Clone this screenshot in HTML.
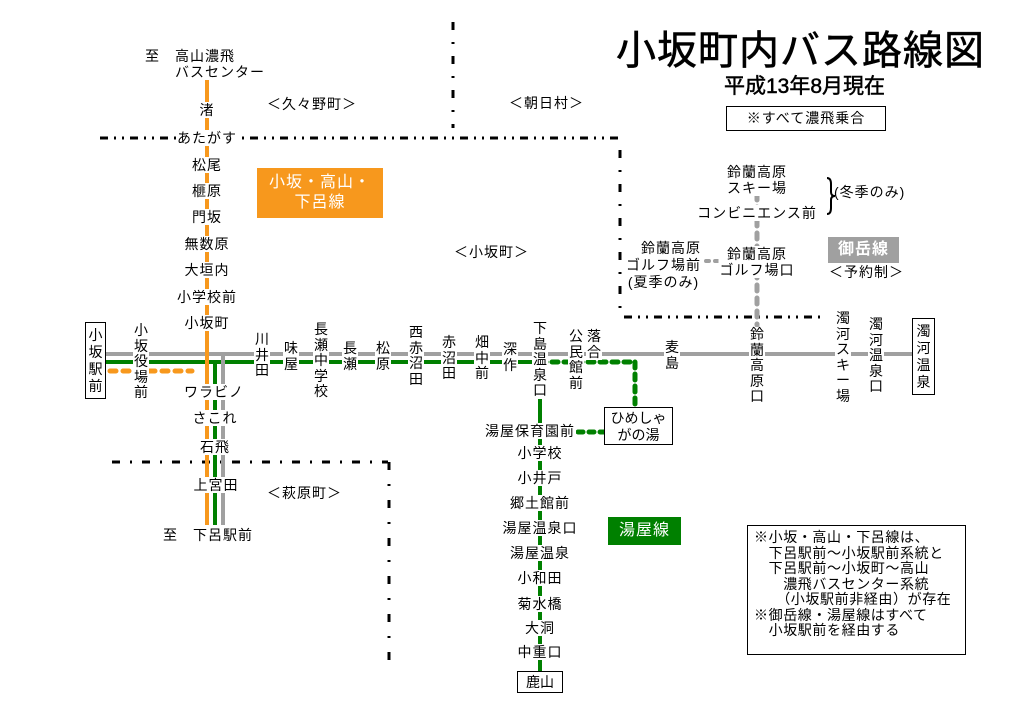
<!DOCTYPE html>
<html><head><meta charset="utf-8">
<style>
body{margin:0;background:#fff;}
#c{position:relative;width:1024px;height:723px;overflow:hidden;background:#fff;font-family:"Liberation Sans","Noto Sans CJK JP",sans-serif;color:#000;}
svg{position:absolute;left:0;top:0;}
.t{position:absolute;font-size:14px;line-height:16px;white-space:nowrap;background:#fff;transform:translateX(-50%);padding:0 1px;letter-spacing:1px;}
.v{position:absolute;font-size:14px;line-height:15.5px;width:16px;text-align:center;background:#fff;transform:translateX(-50%);}
.n{position:absolute;font-size:14px;line-height:16px;white-space:nowrap;letter-spacing:1px;}
.box{position:absolute;border:1px solid #000;background:#fff;}
</style></head><body><div id="c">
<svg width="1024" height="723">
<g stroke="#000" stroke-width="3" fill="none">
<line x1="100" y1="138" x2="620" y2="138" stroke-dasharray="8,6,2,6,2,6"/>
<line x1="453" y1="22" x2="453" y2="128" stroke-dasharray="8,12,2,12"/>
<line x1="620" y1="150" x2="620" y2="315" stroke-dasharray="8,12,2,12"/>
<line x1="624" y1="317" x2="820" y2="317" stroke-dasharray="8,6,2,6,2,6"/>
<line x1="112" y1="462" x2="388" y2="462" stroke-dasharray="8,10,2,10"/>
<line x1="389" y1="462" x2="389" y2="662" stroke-dasharray="8,14,2,14"/>
</g>
<line x1="105" y1="354" x2="912" y2="354" stroke="#a0a0a0" stroke-width="4"/>
<line x1="105" y1="362" x2="540" y2="362" stroke="#008000" stroke-width="4"/>
<line x1="540" y1="362" x2="635" y2="362" stroke="#008000" stroke-width="5" stroke-dasharray="6,6" stroke-linecap="round"/>
<line x1="635" y1="362" x2="635" y2="406" stroke="#008000" stroke-width="5" stroke-dasharray="6,6" stroke-linecap="round"/>
<line x1="578" y1="432" x2="604" y2="432" stroke="#008000" stroke-width="5" stroke-dasharray="5,6" stroke-linecap="round"/>
<line x1="110" y1="371" x2="192" y2="371" stroke="#f7981d" stroke-width="5" stroke-dasharray="6,7" stroke-linecap="round"/>
<line x1="207" y1="80" x2="207" y2="525" stroke="#f7981d" stroke-width="4"/>
<line x1="215" y1="364" x2="215" y2="525" stroke="#008000" stroke-width="4"/>
<line x1="223" y1="354" x2="223" y2="525" stroke="#a0a0a0" stroke-width="4"/>
<line x1="540" y1="362" x2="540" y2="672" stroke="#008000" stroke-width="4"/>
<line x1="757" y1="194" x2="757" y2="325" stroke="#a0a0a0" stroke-width="5" stroke-dasharray="6,7" stroke-linecap="round"/>
<line x1="706" y1="261" x2="720" y2="261" stroke="#a0a0a0" stroke-width="4" stroke-dasharray="3,6" stroke-linecap="round"/>
<path d="M827 178 q4 0 4 6 v8 q0 4 4 4 q-4 0 -4 4 v8 q0 6 -4 6" stroke="#000" stroke-width="2" fill="none"/>
</svg>

<div class="n" style="left:616px;top:27px;font-size:40px;line-height:48px;letter-spacing:1px;-webkit-text-stroke:0.6px #000">小坂町内バス路線図</div>
<div class="n" style="left:724px;top:75px;font-size:21px;line-height:24px;letter-spacing:0;-webkit-text-stroke:0.5px #000">平成13年8月現在</div>
<div class="box" style="left:726px;top:106px;width:158px;height:23px;font-size:14px;line-height:23px;text-align:center;letter-spacing:1px">※すべて濃飛乗合</div>

<div class="n" style="left:267px;top:96px">＜久々野町＞</div>
<div class="n" style="left:509px;top:95px">＜朝日村＞</div>
<div class="n" style="left:454px;top:244px">＜小坂町＞</div>
<div class="n" style="left:267px;top:485px">＜萩原町＞</div>

<div class="n" style="left:257px;top:168px;width:126px;height:50px;background:#f7981d;color:#fff;font-size:16px;line-height:20px;text-align:center;padding-top:5px;box-sizing:border-box">小坂・高山・<br>下呂線</div>
<div class="n" style="left:608px;top:517px;width:73px;height:28px;background:#008000;color:#fff;font-size:16px;line-height:28px;text-align:center">湯屋線</div>
<div class="n" style="left:828px;top:237px;width:71px;height:26px;background:#a0a0a0;color:#fff;font-size:16px;line-height:26px;text-align:center;font-weight:bold">御岳線</div>
<div class="n" style="left:829px;top:264px">＜予約制＞</div>

<div class="n" style="left:145px;top:48px">至　高山濃飛</div>
<div class="n" style="left:175px;top:64px">バスセンター</div>
<div class="t" style="left:207px;top:102px">渚</div>
<div class="t" style="left:207px;top:130px">あたがす</div>
<div class="t" style="left:207px;top:157px">松尾</div>
<div class="t" style="left:207px;top:183px">榧原</div>
<div class="t" style="left:207px;top:209px">門坂</div>
<div class="t" style="left:207px;top:236px">無数原</div>
<div class="t" style="left:207px;top:262px">大垣内</div>
<div class="t" style="left:207px;top:289px">小学校前</div>
<div class="t" style="left:207px;top:315px">小坂町</div>
<div class="t" style="left:214px;top:384px">ワラビノ</div>
<div class="t" style="left:215px;top:410px">さこれ</div>
<div class="t" style="left:215px;top:439px">石飛</div>
<div class="t" style="left:216px;top:477px">上宮田</div>
<div class="n" style="left:163px;top:527px">至　下呂駅前</div>

<div class="box" style="left:85px;top:322px;width:19px;height:75px"><div style="font-size:14px;line-height:17px;text-align:center;margin-top:4px">小<br>坂<br>駅<br>前</div></div>
<div class="box" style="left:912px;top:318px;width:21px;height:75px"><div style="font-size:14px;line-height:17px;text-align:center;margin-top:4px">濁<br>河<br>温<br>泉</div></div>
<div class="box" style="left:604px;top:407px;width:69px;height:38px;font-size:14px;line-height:17px;text-align:center;padding-top:2px;box-sizing:border-box">ひめしゃ<br>がの湯</div>
<div class="box" style="left:517px;top:671px;width:44px;height:20px;font-size:14px;line-height:20px;text-align:center">鹿山</div>

<div class="v" style="left:141px;top:323px">小<br>坂<br>役<br>場<br>前</div>
<div class="v" style="left:262px;top:332px">川<br>井<br>田</div>
<div class="v" style="left:291px;top:341px">味<br>屋</div>
<div class="v" style="left:321px;top:322px">長<br>瀬<br>中<br>学<br>校</div>
<div class="v" style="left:350px;top:341px">長<br>瀬</div>
<div class="v" style="left:383px;top:341px">松<br>原</div>
<div class="v" style="left:416px;top:325px">西<br>赤<br>沼<br>田</div>
<div class="v" style="left:449px;top:335px">赤<br>沼<br>田</div>
<div class="v" style="left:482px;top:335px">畑<br>中<br>前</div>
<div class="v" style="left:510px;top:342px">深<br>作</div>
<div class="v" style="left:540px;top:321px">下<br>島<br>温<br>泉<br>口</div>
<div class="v" style="left:576px;top:329px">公<br>民<br>館<br>前</div>
<div class="v" style="left:594px;top:329px">落<br>合</div>
<div class="v" style="left:672px;top:340px">麦<br>島</div>
<div class="v" style="left:757px;top:327px">鈴<br>蘭<br>高<br>原<br>口</div>
<div class="v" style="left:843px;top:311px">濁<br>河<br>ス<br>キ<br>ー<br>場</div>
<div class="v" style="left:876px;top:317px">濁<br>河<br>温<br>泉<br>口</div>

<div class="t" style="left:530px;top:423px">湯屋保育園前</div>
<div class="t" style="left:540px;top:445px">小学校</div>
<div class="t" style="left:540px;top:470px">小井戸</div>
<div class="t" style="left:540px;top:495px">郷土館前</div>
<div class="t" style="left:540px;top:520px">湯屋温泉口</div>
<div class="t" style="left:540px;top:545px">湯屋温泉</div>
<div class="t" style="left:540px;top:570px">小和田</div>
<div class="t" style="left:540px;top:596px">菊水橋</div>
<div class="t" style="left:540px;top:620px">大洞</div>
<div class="t" style="left:540px;top:644px">中重口</div>

<div class="t" style="left:757px;top:164px;text-align:center">鈴蘭高原<br>スキー場</div>
<div class="t" style="left:757px;top:205px">コンビニエンス前</div>
<div class="n" style="left:834px;top:184px">(冬季のみ)</div>
<div class="t" style="left:757px;top:246px;text-align:center">鈴蘭高原<br>ゴルフ場口</div>
<div class="n" style="left:626px;top:240px;text-align:center;line-height:17px">　鈴蘭高原<br>ゴルフ場前<br>(夏季のみ)</div>

<div class="box" style="left:747px;top:525px;width:219px;height:130px;font-size:14px;line-height:15.5px;letter-spacing:0.6px;padding:4px 0 0 6px;box-sizing:border-box;white-space:nowrap">※小坂・高山・下呂線は、<br>　下呂駅前～小坂駅前系統と<br>　下呂駅前～小坂町～高山<br>　　濃飛バスセンター系統<br>　　（小坂駅前非経由）が存在<br>※御岳線・湯屋線はすべて<br>　小坂駅前を経由する</div>
</div></body></html>
